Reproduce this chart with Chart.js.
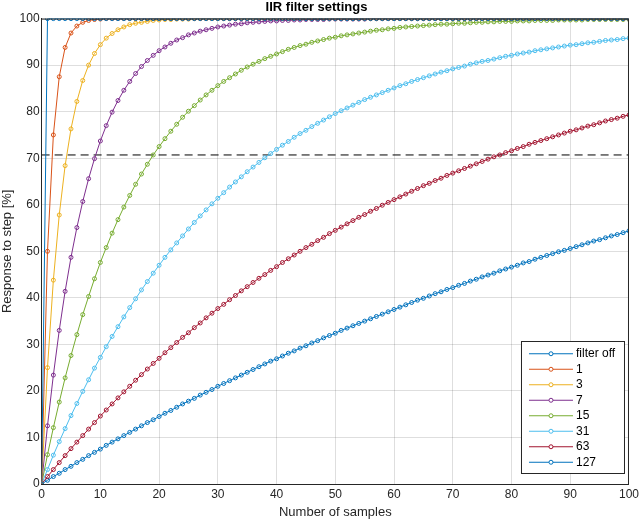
<!DOCTYPE html>
<html>
<head>
<meta charset="utf-8">
<script src="https://cdn.jsdelivr.net/npm/chart.js@4/dist/chart.umd.min.js"></script>
<style>
  html, body { margin: 0; padding: 0; background: #fff; }
  #wrap { width: 642px; height: 522px; }
</style>
</head>
<body>
<div id="wrap"><canvas id="chart"></canvas></div>
<script>
const seriesNames = ["filter off", "1", "3", "7", "15", "31", "63", "127"];
const seriesColors = ["#0072BD", "#D95319", "#EDB120", "#7E2F8E", "#77AC30", "#4DBEEE", "#A2142F", "#0072BD"];
const xTicks = [0, 10, 20, 30, 40, 50, 60, 70, 80, 90, 100];
const yTicks = [0, 10, 20, 30, 40, 50, 60, 70, 80, 90, 100];
const halfPowerLevel = 70.7;

const filterOff = [0,
  100,100,100,100,100,100,100,100,100,100, 100,100,100,100,100,100,100,100,100,100,
  100,100,100,100,100,100,100,100,100,100, 100,100,100,100,100,100,100,100,100,100,
  100,100,100,100,100,100,100,100,100,100, 100,100,100,100,100,100,100,100,100,100,
  100,100,100,100,100,100,100,100,100,100, 100,100,100,100,100,100,100,100,100,100,
  100,100,100,100,100,100,100,100,100,100, 100,100,100,100,100,100,100,100,100,100];
const filter1 = [0,50,75,87.5,93.8,96.9,98.4,99.2,99.6,99.8,
  99.9,100,100,100,100,100,100,100,100,100, 100,100,100,100,100,100,100,100,100,100,
  100,100,100,100,100,100,100,100,100,100, 100,100,100,100,100,100,100,100,100,100,
  100,100,100,100,100,100,100,100,100,100, 100,100,100,100,100,100,100,100,100,100,
  100,100,100,100,100,100,100,100,100,100, 100,100,100,100,100,100,100,100,100,100,
  100,100,100,100,100,100,100,100,100,100, 100];
const filter3 = [0,25,43.8,57.8,68.4,76.3,82.2,86.7,90.0,92.5,
  94.4,95.8,96.8,97.6,98.2,98.7,99.0,99.2,99.4,99.6,
  99.7,99.8,99.8,99.9,99.9,99.9,100,100,100,100, 100,100,100,100,100,100,100,100,100,100,
  100,100,100,100,100,100,100,100,100,100, 100,100,100,100,100,100,100,100,100,100,
  100,100,100,100,100,100,100,100,100,100, 100,100,100,100,100,100,100,100,100,100,
  100,100,100,100,100,100,100,100,100,100, 100,100,100,100,100,100,100,100,100,100, 100];
const filter7 = [0,12.5,23.4,33.0,41.4,48.7,55.1,60.7,65.6,69.9,
  73.7,77.0,79.9,82.4,84.6,86.5,88.2,89.7,91.0,92.1,
  93.1,93.9,94.7,95.4,95.9,96.5,96.9,97.3,97.6,97.9,
  98.2,98.4,98.6,98.8,98.9,99.1,99.2,99.3,99.4,99.5,
  99.5,99.6,99.6,99.7,99.7,99.8,99.8,99.8,99.8,99.9,
  99.9,99.9,99.9,99.9,99.9,99.9,100,100,100,100,
  100,100,100,100,100,100,100,100,100,100, 100,100,100,100,100,100,100,100,100,100,
  100,100,100,100,100,100,100,100,100,100, 100,100,100,100,100,100,100,100,100,100, 100];
const filter15 = [0,6.3,12.1,17.6,22.8,27.6,32.1,36.4,40.3,44.1,
  47.6,50.8,53.9,56.8,59.5,62.0,64.4,66.6,68.7,70.7,
  72.5,74.2,75.8,77.3,78.8,80.1,81.3,82.5,83.6,84.6,
  85.6,86.5,87.3,88.1,88.9,89.6,90.2,90.8,91.4,91.9,
  92.4,92.9,93.4,93.8,94.2,94.5,94.9,95.2,95.5,95.8,
  96.0,96.3,96.5,96.7,96.9,97.1,97.3,97.5,97.6,97.8,
  97.9,98.1,98.2,98.3,98.4,98.5,98.6,98.7,98.8,98.8,
  98.9,99.0,99.0,99.1,99.2,99.2,99.3,99.3,99.4,99.4,
  99.4,99.5,99.5,99.5,99.6,99.6,99.6,99.6,99.7,99.7,
  99.7,99.7,99.7,99.8,99.8,99.8,99.8,99.8,99.8,99.8, 99.8];
const filter31 = [0,3.1,6.2,9.1,11.9,14.7,17.3,19.9,22.4,24.9,
  27.2,29.5,31.7,33.8,35.9,37.9,39.8,41.7,43.5,45.3,
  47.0,48.7,50.3,51.8,53.3,54.8,56.2,57.6,58.9,60.2,
  61.4,62.6,63.8,64.9,66.0,67.1,68.1,69.1,70.1,71.0,
  71.9,72.8,73.6,74.5,75.3,76.0,76.8,77.5,78.2,78.9,
  79.6,80.2,80.8,81.4,82.0,82.6,83.1,83.6,84.1,84.6,
  85.1,85.6,86.0,86.5,86.9,87.3,87.7,88.1,88.5,88.8,
  89.2,89.5,89.8,90.2,90.5,90.8,91.0,91.3,91.6,91.9,
  92.1,92.4,92.6,92.8,93.1,93.3,93.5,93.7,93.9,94.1,
  94.3,94.4,94.6,94.8,94.9,95.1,95.3,95.4,95.5,95.7, 95.8];
const filter63 = [0,1.6,3.1,4.6,6.1,7.6,9.0,10.4,11.8,13.2,
  14.6,15.9,17.2,18.5,19.8,21.0,22.3,23.5,24.7,25.9,
  27.0,28.2,29.3,30.4,31.5,32.5,33.6,34.6,35.7,36.7,
  37.7,38.6,39.6,40.5,41.5,42.4,43.3,44.2,45.0,45.9,
  46.7,47.6,48.4,49.2,50.0,50.8,51.5,52.3,53.0,53.8,
  54.5,55.2,55.9,56.6,57.3,57.9,58.6,59.2,59.9,60.5,
  61.1,61.7,62.3,62.9,63.5,64.1,64.6,65.2,65.7,66.3,
  66.8,67.3,67.8,68.3,68.8,69.3,69.8,70.3,70.7,71.2,
  71.6,72.1,72.5,73.0,73.4,73.8,74.2,74.6,75.0,75.4,
  75.8,76.1,76.5,76.9,77.2,77.6,78.0,78.3,78.6,79.0, 79.3];
const filter127 = [0,0.8,1.6,2.3,3.1,3.8,4.6,5.3,6.1,6.8,
  7.5,8.3,9.0,9.7,10.4,11.1,11.8,12.5,13.2,13.8,
  14.5,15.2,15.8,16.5,17.2,17.8,18.4,19.1,19.7,20.3,
  21.0,21.6,22.2,22.8,23.4,24.0,24.6,25.2,25.8,26.4,
  26.9,27.5,28.1,28.6,29.2,29.7,30.3,30.8,31.4,31.9,
  32.4,33.0,33.5,34.0,34.5,35.0,35.5,36.0,36.5,37.0,
  37.5,38.0,38.5,39.0,39.5,39.9,40.4,40.9,41.3,41.8,
  42.2,42.7,43.1,43.6,44.0,44.5,44.9,45.3,45.8,46.2,
  46.6,47.0,47.5,47.8,48.3,48.7,49.1,49.5,49.9,50.2,
  50.6,51.0,51.4,51.8,52.2,52.5,52.9,53.3,53.6,54.0, 54.4];

const seriesValues = [filterOff, filter1, filter3, filter7, filter15, filter31, filter63, filter127];

const fontStack = "Arial, 'Liberation Sans', Helvetica, sans-serif";

// MATLAB-style legend box inside the axes (bottom right), plus the top/right axes box
const boxLegend = {
  id: "boxLegend",
  afterDatasetsDraw(chart) {
    const { ctx, chartArea } = chart;
    ctx.save();
    ctx.strokeStyle = "#262626";
    ctx.lineWidth = 1;
    ctx.beginPath();
    ctx.moveTo(chartArea.left, chartArea.top + 0.5);
    ctx.lineTo(chartArea.right - 0.5, chartArea.top + 0.5);
    ctx.lineTo(chartArea.right - 0.5, chartArea.bottom);
    ctx.stroke();

    const rowH = 15.5, w = 103, h = seriesNames.length * rowH + 8;
    const x0 = chartArea.right - w - 5, y0 = chartArea.bottom - h - 11;
    ctx.fillStyle = "#fff";
    ctx.fillRect(x0, y0, w, h);
    ctx.strokeRect(x0 + 0.5, y0 + 0.5, w, h);
    ctx.font = "12px " + fontStack;
    ctx.textBaseline = "middle";
    seriesNames.forEach((name, i) => {
      const y = y0 + 4 + rowH * (i + 0.5) + 1;
      ctx.strokeStyle = seriesColors[i];
      ctx.beginPath();
      ctx.moveTo(x0 + 8, y);
      ctx.lineTo(x0 + 52, y);
      ctx.stroke();
      ctx.beginPath();
      ctx.arc(x0 + 30, y, 2, 0, Math.PI * 2);
      ctx.fillStyle = "#fff";
      ctx.fill();
      ctx.stroke();
      ctx.fillStyle = "#000";
      ctx.fillText(name, x0 + 55, y);
    });
    ctx.restore();
  },
};

const datasets = seriesNames.map((name, i) => ({
  label: name,
  data: seriesValues[i].map((v, n) => ({ x: n, y: v })),
  borderColor: seriesColors[i],
  backgroundColor: "rgba(255,255,255,0)",
  borderWidth: 1,
  pointRadius: 2,
  pointBorderWidth: 1,
  pointStyle: "circle",
  tension: 0,
}));
datasets.push({
  label: "-3dB",
  data: [{ x: 0, y: halfPowerLevel }, { x: 100, y: halfPowerLevel }],
  borderColor: "#000",
  borderWidth: 1,
  borderDash: [8, 5],
  pointRadius: 0,
});

new Chart(document.getElementById("chart"), {
  type: "line",
  data: { datasets },
  options: {
    responsive: true,
    maintainAspectRatio: false,
    animation: false,
    layout: { padding: { left: 0, right: 9, top: 0, bottom: 0 } },
    plugins: {
      legend: { display: false },
      tooltip: { enabled: false },
      title: {
        display: true,
        text: "IIR filter settings",
        color: "#000",
        font: { family: fontStack, size: 13, weight: "bold" },
        padding: { top: 0, bottom: 3 },
      },
    },
    scales: {
      x: {
        type: "linear",
        min: 0,
        max: 100,
        afterBuildTicks: (axis) => { axis.ticks = xTicks.map((v) => ({ value: v })); },
        grid: { color: "rgba(0,0,0,0.13)", drawTicks: false },
        border: { color: "#262626" },
        ticks: { color: "#262626", font: { family: fontStack, size: 12 }, padding: 3, maxRotation: 0 },
        title: { display: true, text: "Number of samples", color: "#262626", font: { family: fontStack, size: 13 }, padding: { top: 0, bottom: 2 } },
      },
      y: {
        min: 0,
        max: 100,
        afterBuildTicks: (axis) => { axis.ticks = yTicks.map((v) => ({ value: v })); },
        grid: { color: "rgba(0,0,0,0.13)", drawTicks: false },
        border: { color: "#262626" },
        ticks: { color: "#262626", font: { family: fontStack, size: 12 }, padding: 2 },
        title: { display: true, text: "Response to step [%]", color: "#262626", font: { family: fontStack, size: 13 }, padding: { top: 0, bottom: 2 } },
      },
    },
  },
  plugins: [boxLegend],
});
</script>
</body>
</html>
